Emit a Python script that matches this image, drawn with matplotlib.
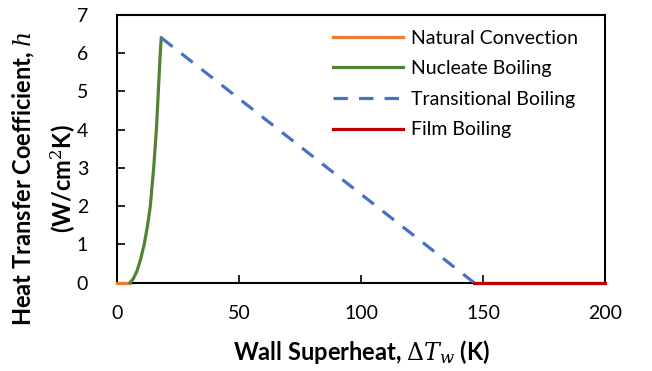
import matplotlib.pyplot as plt

plt.rcParams['font.family'] = ['Lato', 'DejaVu Sans']
plt.rcParams['mathtext.fontset'] = 'dejavuserif'

nat_x = [0, 5.2]
nat_h = [0, 0]
nuc_x = [5.2, 6.5, 8.0, 9.5, 11.0, 12.4, 13.5, 14.9, 16.0, 16.8, 17.6, 18.0]
nuc_h = [0, 0.1, 0.3, 0.6, 1.0, 1.5, 2.0, 3.0, 4.0, 5.0, 6.0, 6.4]
trans_x = [18.0, 146.3]
trans_h = [6.4, 0]
film_x = [146.3, 200]
film_h = [0, 0]

fig, ax = plt.subplots(figsize=(6.52, 3.71), dpi=100)
fig.subplots_adjust(left=0.18, right=0.928, top=0.96, bottom=0.238)

ax.plot(nat_x, nat_h, c='#ED7D31', lw=2.3, label='Natural Convection', clip_on=False, zorder=3)
ax.plot(nuc_x, nuc_h, c='#548235', lw=2.3, label='Nucleate Boiling', clip_on=False, zorder=3)
ax.plot(trans_x, trans_h, c='#4472C4', lw=2.3, ls=(0, (4.5, 3.5)), label='Transitional Boiling', zorder=3)
ax.plot(film_x, film_h, c='#C00000', lw=2.3, label='Film Boiling', clip_on=False, zorder=3)

ax.set_xlim(0, 200)
ax.set_ylim(0, 7)
ax.set_xticks([0, 50, 100, 150, 200])
ax.set_yticks(range(0, 8))
ax.tick_params(axis='both', direction='in', labelsize=14, length=5.5, width=1.2)
ax.tick_params(axis='x', pad=16)
ax.tick_params(axis='y', pad=21)
for s in ax.spines.values():
    s.set_linewidth(1.5)

ax.set_xlabel(r'Wall Superheat, $\Delta T_w$ (K)', fontsize=17, fontweight='bold')
ax.set_ylabel('Heat Transfer Coefficient, $h$\n(W/cm$^2$K)', fontsize=17, fontweight='bold', linespacing=1.5)
ax.xaxis.set_label_coords(0.5, -0.205)
ax.yaxis.set_label_coords(-0.08, 0.39)

ax.legend(loc='upper left', bbox_to_anchor=(0.443, 0.945), frameon=False, fontsize=14,
          handlelength=3.6, labelspacing=0.7, handletextpad=0.4, borderpad=0, borderaxespad=0)

plt.savefig('out.png')
